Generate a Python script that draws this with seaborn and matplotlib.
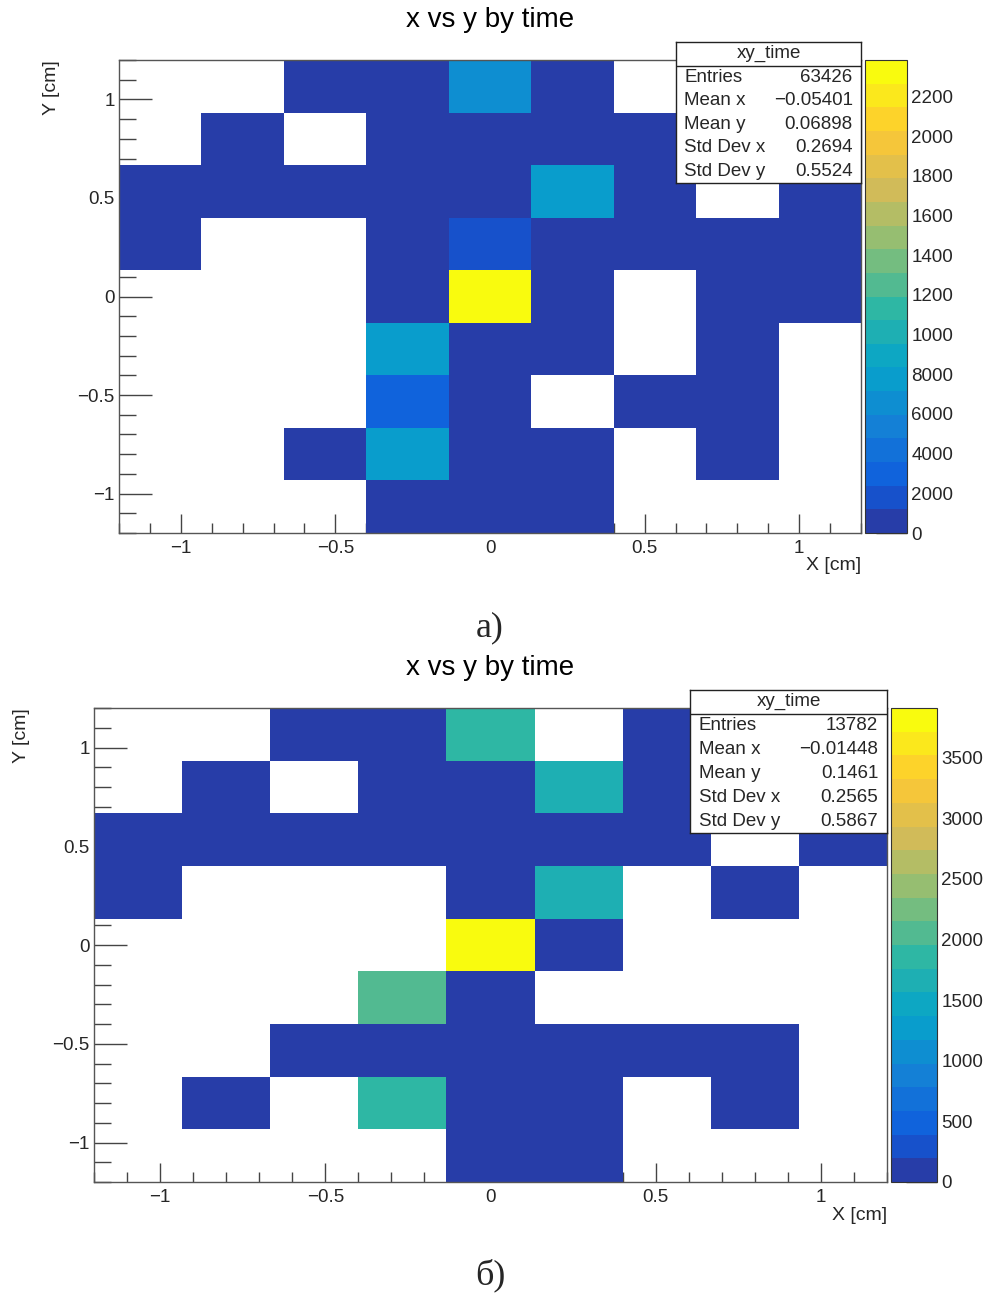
import numpy as np
import pandas as pd
import matplotlib
matplotlib.use("Agg")
import matplotlib.pyplot as plt
from matplotlib.colors import ListedColormap
from matplotlib.ticker import MultipleLocator, FixedLocator, FuncFormatter
import seaborn as sns

sns.set_style("white")
plt.rcParams["font.family"] = ["Liberation Sans", "DejaVu Sans"]
plt.rcParams["axes.unicode_minus"] = True

HIST_NAME = "xy_time"
TITLE = "x vs y by time"
X_LABEL = "X [cm]"
Y_LABEL = "Y [cm]"
AXIS_RANGE = (-1.2, 1.2)
N_BINS = 9
N_LEVELS = 20

# Bin contents: rows run from the top (y = +1.2) down to y = -1.2,
# columns from x = -1.2 to x = +1.2.
counts_a = [
    [0,   0,   150, 210,  6500,  180,  0,   90,  60],
    [0,   120, 0,   260,  340,   310,  140, 80,  70],
    [110, 160, 230, 380,  420,   7700, 190, 0,   90],
    [80,  0,   0,   350,  1800,  400,  210, 130, 100],
    [0,   0,   0,   300,  23800, 520,  0,   150, 110],
    [0,   0,   0,   7700, 600,   330,  0,   140, 0],
    [0,   0,   0,   3000, 480,   0,    160, 120, 0],
    [0,   0,   140, 7700, 450,   260,  0,   90,  0],
    [0,   0,   0,   210,  300,   170,  0,   0,   0],
]
counts_b = [
    [0,  0,  20, 25,   1850, 0,    30, 15, 10],
    [0,  18, 0,  22,   35,   1650, 28, 12, 10],
    [15, 20, 25, 30,   40,   45,   20, 0,  12],
    [14, 0,  0,  0,    38,   1650, 0,  16, 0],
    [0,  0,  0,  0,    3910, 42,   0,  0,  0],
    [0,  0,  0,  2050, 50,   0,    0,  0,  0],
    [0,  0,  22, 35,   48,   40,   26, 18, 0],
    [0,  16, 0,  1850, 45,   38,   0,  14, 0],
    [0,  0,  0,  0,    36,   30,   0,  0,  0],
]

stats_labels = ["Entries", "Mean x", "Mean y", "Std Dev x", "Std Dev y"]
stats_a = ["63426", "\u22120.05401", "0.06898", "0.2694", "0.5524"]
stats_b = ["13782", "\u22120.01448", "0.1461", "0.2565", "0.5867"]

zmax_a = 23830
zmax_b = 3910
cbar_ticks_a = [0, 2000, 4000, 6000, 8000, 10000, 12000, 14000, 16000, 18000, 20000, 22000]
cbar_labels_a = ["0", "2000", "4000", "6000", "8000", "1000", "1200", "1400",
                 "1600", "1800", "2000", "2200"]
cbar_ticks_b = [0, 500, 1000, 1500, 2000, 2500, 3000, 3500]
cbar_labels_b = ["0", "500", "1000", "1500", "2000", "2500", "3000", "3500"]

captions = ["\u0430)", "\u0431)"]


def bird_palette(n_levels):
    """ROOT 'kBird' gradient, sampled the way COLZ picks one colour per contour."""
    stops = [0.0, 0.125, 0.25, 0.375, 0.5, 0.625, 0.75, 0.875, 1.0]
    red = [0.2082, 0.0592, 0.0780, 0.0232, 0.1802, 0.5301, 0.8186, 0.9956, 0.9764]
    green = [0.1664, 0.3599, 0.5041, 0.6419, 0.7178, 0.7492, 0.7328, 0.7862, 0.9832]
    blue = [0.5293, 0.8684, 0.8385, 0.7914, 0.6425, 0.4662, 0.3499, 0.1968, 0.0539]
    ncol = 255
    cols = []
    for i in range(n_levels):
        k = int((i + 0.99) * ncol / n_levels)
        f = k / (ncol - 1)
        cols.append((np.interp(f, stops, red), np.interp(f, stops, green),
                     np.interp(f, stops, blue)))
    return ListedColormap(cols)


def to_frame(counts):
    edges = np.linspace(AXIS_RANGE[0], AXIS_RANGE[1], N_BINS + 1)
    centers = 0.5 * (edges[:-1] + edges[1:])
    arr = np.asarray(counts, dtype=float)
    yy, xx = np.meshgrid(centers[::-1], centers, indexing="ij")
    return pd.DataFrame({"x": xx.ravel(), "y": yy.ravel(), "w": arr.ravel()})


def root_label(v, _pos):
    s = "%g" % round(v, 6)
    if s == "-0":
        s = "0"
    return s.replace("-", "\u2212")


cmap = bird_palette(N_LEVELS)
fig = plt.figure(figsize=(9.92, 12.97), dpi=100)
W, H = 992.0, 1297.0


def fx(px):
    return px / W


def fy(py):
    return 1.0 - py / H


def draw_panel(counts, zmax, cticks, clabels, stats, geo):
    (ax_l, ax_t, ax_r, ax_b), (c_l, c_r), (s_l, s_t, s_r, s_b), title_y, ylab_x, xlab_y = geo
    ax = fig.add_axes([fx(ax_l), fy(ax_b), fx(ax_r - ax_l), (ax_b - ax_t) / H])
    cax = fig.add_axes([fx(c_l), fy(ax_b), fx(c_r - c_l), (ax_b - ax_t) / H])

    sns.histplot(data=to_frame(counts), x="x", y="y", weights="w",
                 bins=N_BINS, binrange=(AXIS_RANGE, AXIS_RANGE),
                 cmap=cmap, vmin=0, vmax=zmax, cbar=True, cbar_ax=cax, ax=ax)

    ax.set_xlim(*AXIS_RANGE)
    ax.set_ylim(*AXIS_RANGE)
    ax.set_xlabel("")
    ax.set_ylabel("")
    ax.set_facecolor("white")
    ax.grid(False)
    for s in ax.spines.values():
        s.set_visible(True)
        s.set_color("#555555")
        s.set_linewidth(1.0)
    ax.xaxis.set_major_locator(MultipleLocator(0.5))
    ax.xaxis.set_minor_locator(MultipleLocator(0.1))
    ax.yaxis.set_major_locator(MultipleLocator(0.5))
    ax.yaxis.set_minor_locator(MultipleLocator(0.1))
    ax.xaxis.set_major_formatter(FuncFormatter(root_label))
    ax.yaxis.set_major_formatter(FuncFormatter(root_label))
    ax.tick_params(axis="x", which="major", direction="in", length=14, width=1,
                   color="#444444", labelsize=13.5, pad=5, bottom=True, top=False)
    ax.tick_params(axis="x", which="minor", direction="in", length=7, width=1,
                   color="#444444", bottom=True, top=False)
    ax.tick_params(axis="y", which="major", direction="in", length=24, width=1,
                   color="#444444", labelsize=13.5, pad=3, left=True, right=False)
    ax.tick_params(axis="y", which="minor", direction="in", length=12, width=1,
                   color="#444444", left=True, right=False)

    # colour palette axis
    cax.yaxis.set_ticks_position("right")
    cax.yaxis.set_major_locator(FixedLocator(cticks))
    cax.set_yticklabels(clabels)
    cax.minorticks_off()
    cax.tick_params(axis="y", which="major", direction="in", length=22, width=1,
                    color="#333333", labelsize=13.5, pad=3)
    cax.set_ylim(0, zmax)
    for s in cax.spines.values():
        s.set_color("#333333")
        s.set_linewidth(0.8)

    # title and axis titles
    fig.text(fx((ax_l + ax_r) / 2), fy(title_y), TITLE, ha="center", va="center",
             fontsize=20, color="black")
    fig.text(fx(ax_r), fy(xlab_y), X_LABEL, ha="right", va="center", fontsize=14)
    fig.text(fx(ylab_x), fy(ax_t), Y_LABEL, ha="center", va="top", rotation=90,
             fontsize=14)

    # statistics box
    sax = fig.add_axes([fx(s_l), fy(s_b), fx(s_r - s_l), (s_b - s_t) / H])
    sax.set_xlim(0, 1)
    sax.set_ylim(0, 1)
    sax.set_xticks([])
    sax.set_yticks([])
    sax.set_facecolor("white")
    for s in sax.spines.values():
        s.set_visible(True)
        s.set_color("#222222")
        s.set_linewidth(1.0)
    head_h = 23.5 / (s_b - s_t)
    sax.axhline(1 - head_h, color="#222222", lw=1.0)
    sax.text(0.5, 1 - head_h / 2, HIST_NAME, ha="center", va="center", fontsize=13.5)
    row_h = (1 - head_h) / len(stats_labels)
    for i, (lab, val) in enumerate(zip(stats_labels, stats)):
        yv = 1 - head_h - row_h * (i + 0.5)
        sax.text(0.045, yv, lab, ha="left", va="center", fontsize=13.5)
        sax.text(0.955, yv, val, ha="right", va="center", fontsize=13.5)
    return ax


geo_a = ((119, 60, 861, 533), (865, 907), (676, 42, 861, 183), 20, 51, 565)
geo_b = ((94, 708, 887, 1182), (891, 937), (690, 690, 887, 833), 668, 22, 1215)

draw_panel(counts_a, zmax_a, cbar_ticks_a, cbar_labels_a, stats_a, geo_a)
draw_panel(counts_b, zmax_b, cbar_ticks_b, cbar_labels_b, stats_b, geo_b)

fig.text(fx(490), fy(628), captions[0], ha="center", va="center", fontsize=26,
         family=["Liberation Serif", "DejaVu Serif"])
fig.text(fx(490), fy(1275), captions[1], ha="center", va="center", fontsize=26,
         family=["Liberation Serif", "DejaVu Serif"])

fig.savefig("out.png", dpi=100, facecolor="white")
